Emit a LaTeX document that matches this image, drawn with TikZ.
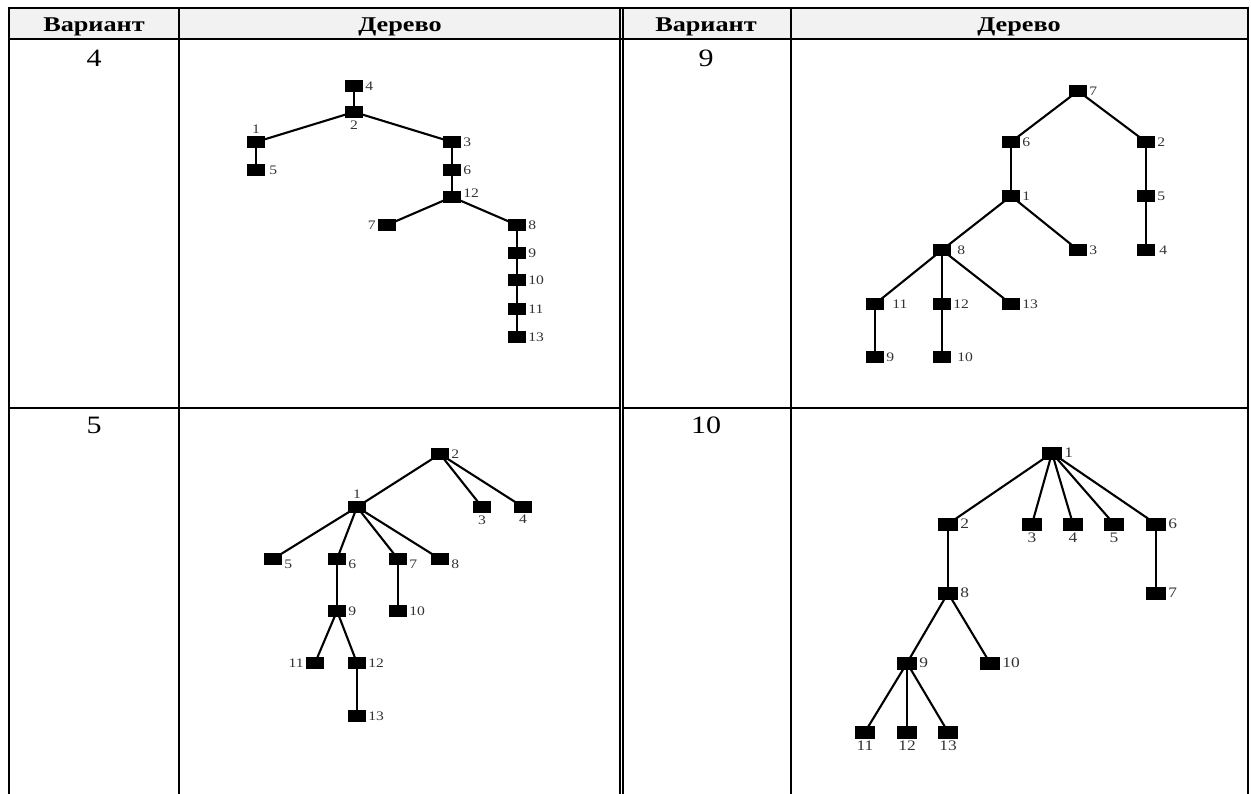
\documentclass[tikz,border=0pt]{standalone}
\usepackage{fontspec}
\setmainfont{Liberation Serif}
\newfontfamily\widefont[FakeStretch=1.25]{Liberation Serif}
\newfontfamily\numfont[FakeStretch=1.2]{Liberation Serif}
\newfontfamily\lblfont[FakeStretch=1.2]{Liberation Serif}
\begin{document}
\begin{tikzpicture}[x=1pt,y=-1pt,
 grid/.style={line width=2.9pt},
 dbl/.style={line width=1.5pt},
 hdr/.style={font=\widefont\fontsize{21}{22}\selectfont\bfseries, anchor=base, inner sep=0pt},
 num/.style={font=\numfont\fontsize{25}{28}\selectfont, anchor=base, inner sep=0pt},
 bx/.style={fill=black, minimum width=18pt, minimum height=12pt, inner sep=0pt},
 bxl/.style={fill=black, minimum width=20pt, minimum height=13pt, inner sep=0pt},
 lb/.style={font=\lblfont\fontsize{13}{13}\selectfont, text=black!80, inner sep=1pt, label distance=1pt},
 lbl/.style={font=\lblfont\fontsize{14.5}{14}\selectfont, text=black!80, inner sep=1pt, label distance=1pt},
 edge/.style={line width=2.1pt},
]
\useasboundingbox (0,0) rectangle (1251,794);
% header background
\fill[black!5] (9,8) rectangle (1248,39);
% table lines
\draw[grid] (7.6,8) -- (1249.4,8);
\draw[grid] (9,39) -- (1248,39);
\draw[grid] (9,408) -- (620,408);
\draw[grid] (623,408) -- (1248,408);
\draw[grid] (9,6.6) -- (9,794);
\draw[grid] (179,8) -- (179,794);
\draw[grid] (791,8) -- (791,794);
\draw[grid] (1248,6.6) -- (1248,794);
\draw[dbl] (620,8) -- (620,794);
\draw[dbl] (623,8) -- (623,794);
% header texts
\node[hdr] (h1) at (94,32) {Вариант};
\node[hdr] (h2) at (400,32) {Дерево};
\node[hdr] (h3) at (706,32) {Вариант};
\node[hdr] (h4) at (1019,32) {Дерево};
% variant numbers
\node[num] (v4) at (94,67) {4};
\node[num] (v9) at (706,67) {9};
\node[num] (v5) at (94,433) {5};
\node[num] (v10) at (706,433) {10};

% ---------- Tree variant 4 ----------
\node[bx,label={[lb]right:4}] (a4) at (354,86) {};
\node[bx,label={[lb]below:2}] (a2) at (354,112) {};
\node[bx,label={[lb]above:1}] (a1) at (256,142) {};
\node[bx,label={[lb,label distance=3pt]right:5}] (a5) at (256,170) {};
\node[bx,label={[lb]right:3}] (a3) at (452,142) {};
\node[bx,label={[lb]right:6}] (a6) at (452,170) {};
\node[bx,label={[lb,yshift=4pt]right:12}] (a12) at (452,197) {};
\node[bx,label={[lb]left:7}] (a7) at (387,225) {};
\node[bx,label={[lb]right:8}] (a8) at (517,225) {};
\node[bx,label={[lb]right:9}] (a9) at (517,253) {};
\node[bx,label={[lb]right:10}] (a10) at (517,280) {};
\node[bx,label={[lb]right:11}] (a11) at (517,309) {};
\node[bx,label={[lb]right:13}] (a13) at (517,337) {};
\draw[edge] (a4.center) -- (a2.center);
\draw[edge] (a2.center) -- (a1.center);
\draw[edge] (a2.center) -- (a3.center);
\draw[edge] (a1.center) -- (a5.center);
\draw[edge] (a3.center) -- (a6.center);
\draw[edge] (a6.center) -- (a12.center);
\draw[edge] (a12.center) -- (a7.center);
\draw[edge] (a12.center) -- (a8.center);
\draw[edge] (a8.center) -- (a9.center);
\draw[edge] (a9.center) -- (a10.center);
\draw[edge] (a10.center) -- (a11.center);
\draw[edge] (a11.center) -- (a13.center);

% ---------- Tree variant 9 ----------
\node[bx,label={[lb]right:7}] (b7) at (1078,91) {};
\node[bx,label={[lb]right:6}] (b6) at (1011,142) {};
\node[bx,label={[lb]right:2}] (b2) at (1146,142) {};
\node[bx,label={[lb]right:1}] (b1) at (1011,196) {};
\node[bx,label={[lb]right:5}] (b5) at (1146,196) {};
\node[bx,label={[lb,label distance=5pt]right:8}] (b8) at (942,250) {};
\node[bx,label={[lb]right:3}] (b3) at (1078,250) {};
\node[bx,label={[lb,label distance=3pt]right:4}] (b4) at (1146,250) {};
\node[bx,label={[lb,label distance=7pt]right:11}] (b11) at (875,304) {};
\node[bx,label={[lb]right:12}] (b12) at (942,304) {};
\node[bx,label={[lb]right:13}] (b13) at (1011,304) {};
\node[bx,label={[lb]right:9}] (b9) at (875,357) {};
\node[bx,label={[lb,label distance=5pt]right:10}] (b10) at (942,357) {};
\draw[edge] (b7.center) -- (b6.center);
\draw[edge] (b7.center) -- (b2.center);
\draw[edge] (b6.center) -- (b1.center);
\draw[edge] (b2.center) -- (b5.center);
\draw[edge] (b5.center) -- (b4.center);
\draw[edge] (b1.center) -- (b8.center);
\draw[edge] (b1.center) -- (b3.center);
\draw[edge] (b8.center) -- (b11.center);
\draw[edge] (b8.center) -- (b12.center);
\draw[edge] (b8.center) -- (b13.center);
\draw[edge] (b11.center) -- (b9.center);
\draw[edge] (b12.center) -- (b10.center);

% ---------- Tree variant 5 ----------
\node[bx,label={[lb]right:2}] (c2) at (440,454) {};
\node[bx,label={[lb]above:1}] (c1) at (357,507) {};
\node[bx,label={[lb]below:3}] (c3) at (482,507) {};
\node[bx,label={[lb]below:4}] (c4) at (523,507) {};
\node[bx,label={[lb,yshift=-5pt]right:5}] (c5) at (273,559) {};
\node[bx,label={[lb,yshift=-5pt]right:6}] (c6) at (337,559) {};
\node[bx,label={[lb,yshift=-5pt]right:7}] (c7) at (398,559) {};
\node[bx,label={[lb,yshift=-5pt]right:8}] (c8) at (440,559) {};
\node[bx,label={[lb]right:9}] (c9) at (337,611) {};
\node[bx,label={[lb]right:10}] (c10) at (398,611) {};
\node[bx,label={[lb]left:11}] (c11) at (315,663) {};
\node[bx,label={[lb]right:12}] (c12) at (357,663) {};
\node[bx,label={[lb]right:13}] (c13) at (357,716) {};
\draw[edge] (c2.center) -- (c1.center);
\draw[edge] (c2.center) -- (c3.center);
\draw[edge] (c2.center) -- (c4.center);
\draw[edge] (c1.center) -- (c5.center);
\draw[edge] (c1.center) -- (c6.center);
\draw[edge] (c1.center) -- (c7.center);
\draw[edge] (c1.center) -- (c8.center);
\draw[edge] (c6.center) -- (c9.center);
\draw[edge] (c7.center) -- (c10.center);
\draw[edge] (c9.center) -- (c11.center);
\draw[edge] (c9.center) -- (c12.center);
\draw[edge] (c12.center) -- (c13.center);

% ---------- Tree variant 10 ----------
\node[bxl,label={[lbl]right:1}] (d1) at (1052,453) {};
\node[bxl,label={[lbl]right:2}] (d2) at (948,524) {};
\node[bxl,label={[lbl]below:3}] (d3) at (1032,524) {};
\node[bxl,label={[lbl]below:4}] (d4) at (1073,524) {};
\node[bxl,label={[lbl]below:5}] (d5) at (1114,524) {};
\node[bxl,label={[lbl]right:6}] (d6) at (1156,524) {};
\node[bxl,label={[lbl]right:8}] (d8) at (948,593) {};
\node[bxl,label={[lbl]right:7}] (d7) at (1156,593) {};
\node[bxl,label={[lbl]right:9}] (d9) at (907,663) {};
\node[bxl,label={[lbl]right:10}] (d10) at (990,663) {};
\node[bxl,label={[lbl]below:11}] (d11) at (865,732) {};
\node[bxl,label={[lbl]below:12}] (d12) at (907,732) {};
\node[bxl,label={[lbl]below:13}] (d13) at (948,732) {};
\draw[edge] (d1.center) -- (d2.center);
\draw[edge] (d1.center) -- (d3.center);
\draw[edge] (d1.center) -- (d4.center);
\draw[edge] (d1.center) -- (d5.center);
\draw[edge] (d1.center) -- (d6.center);
\draw[edge] (d2.center) -- (d8.center);
\draw[edge] (d6.center) -- (d7.center);
\draw[edge] (d8.center) -- (d9.center);
\draw[edge] (d8.center) -- (d10.center);
\draw[edge] (d9.center) -- (d11.center);
\draw[edge] (d9.center) -- (d12.center);
\draw[edge] (d9.center) -- (d13.center);
\end{tikzpicture}
\end{document}
